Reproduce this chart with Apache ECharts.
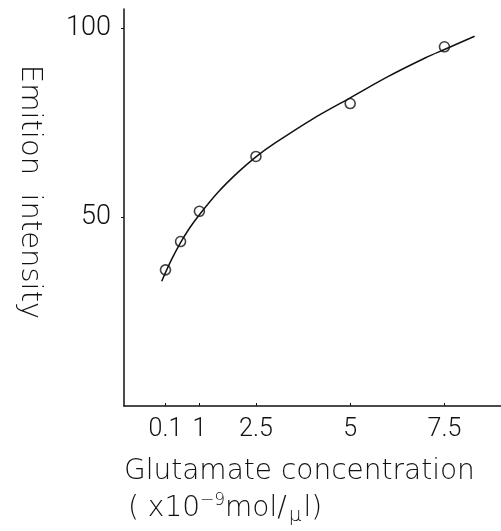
<!DOCTYPE html>
<html>
<head>
<meta charset="utf-8">
<script src="https://cdn.jsdelivr.net/npm/echarts@6/dist/echarts.min.js"></script>
<style>
  html, body { margin: 0; padding: 0; background: #fff; }
  #main { width: 501px; height: 531px; }
</style>
</head>
<body>
<div id="main"></div>
<script>
// measured points (concentration x10^-9 mol/ul, emission)
var concentration = [0.1, 0.5, 1, 2.5, 5, 7.5];
var emission = [36, 43.5, 51.5, 66, 80, 95];

// fitted curve
var curveX = [0, 0.25, 0.5, 0.75, 1, 1.5, 2, 2.5, 3, 4, 5, 6, 7, 7.5, 8.3];
var curveY = [33, 38.5, 43.2, 47.2, 50.6, 56.6, 61.6, 65.9, 69.5, 75.9, 81.5, 87.1, 92.1, 94.3, 97.8];

var xTicks = [0.1, 1, 2.5, 5, 7.5];
var yTicks = [50, 100];

var numFont = 'Roboto';
var txtFont = 'DejaVu Sans';
var ink = '#111';

var myChart = echarts.init(document.getElementById('main'));

var pts = concentration.map(function (c, i) { return [c, emission[i]]; });
var curve = curveX.map(function (c, i) { return [c, curveY[i]]; });

myChart.setOption({
    animation: false,
    backgroundColor: '#fff',
    grid: { left: 124, top: 9, width: 378, bottom: 125, containLabel: false },
    xAxis: {
        type: 'value',
        min: -1, max: 9,
        axisLine: { lineStyle: { color: ink, width: 1.5 } },
        axisTick: { inside: true, length: 3, customValues: xTicks, lineStyle: { color: ink } },
        axisLabel: {
            customValues: xTicks, margin: 11,
            color: ink, fontFamily: numFont, fontWeight: 300, fontSize: 25
        },
        splitLine: { show: false }
    },
    yAxis: {
        type: 'value',
        min: 0, max: 105,
        axisLine: { show: true, onZero: false, lineStyle: { color: ink, width: 1.5 } },
        axisTick: { show: true, length: 3, customValues: yTicks, lineStyle: { color: ink } },
        axisLabel: {
            customValues: yTicks, margin: 13,
            color: ink, fontFamily: numFont, fontWeight: 300, fontSize: 27
        },
        splitLine: { show: false }
    },
    graphic: [
        {
            type: 'text', x: 30, y: 192, rotation: -Math.PI / 2,
            style: {
                text: 'Emition  intensity', fill: ink, fontFamily: txtFont, fontWeight: 200,
                fontSize: 29, align: 'center', verticalAlign: 'middle'
            }
        },
        {
            type: 'text', left: 124, top: 458,
            style: {
                text: 'Glutamate concentration', fill: ink, fontFamily: txtFont, fontWeight: 200,
                fontSize: 28
            }
        },
        {
            type: 'text', left: 128, top: 492,
            style: {
                text: '{a|( x10}{sup|−9}{a|mol/}{sub|μ}{a|l)}',
                rich: {
                    a: { fill: ink, fontFamily: txtFont, fontWeight: 200, fontSize: 28, lineHeight: 34 },
                    sup: { fill: ink, fontFamily: txtFont, fontWeight: 200, fontSize: 17, verticalAlign: 'top', lineHeight: 34, padding: [0, 0, 16, 0] },
                    sub: { fill: ink, fontFamily: txtFont, fontWeight: 200, fontSize: 20, verticalAlign: 'bottom', lineHeight: 34, padding: [10, 2, 0, 2] }
                }
            }
        }
    ],
    series: [
        {
            type: 'line', data: curve, smooth: 0.3, showSymbol: false,
            lineStyle: { color: ink, width: 1.5 }
        },
        {
            type: 'scatter', data: pts, symbol: 'circle', symbolSize: 10,
            itemStyle: { color: '#fff', borderColor: ink, borderWidth: 1.6 }
        }
    ]
});
</script>
</body>
</html>
